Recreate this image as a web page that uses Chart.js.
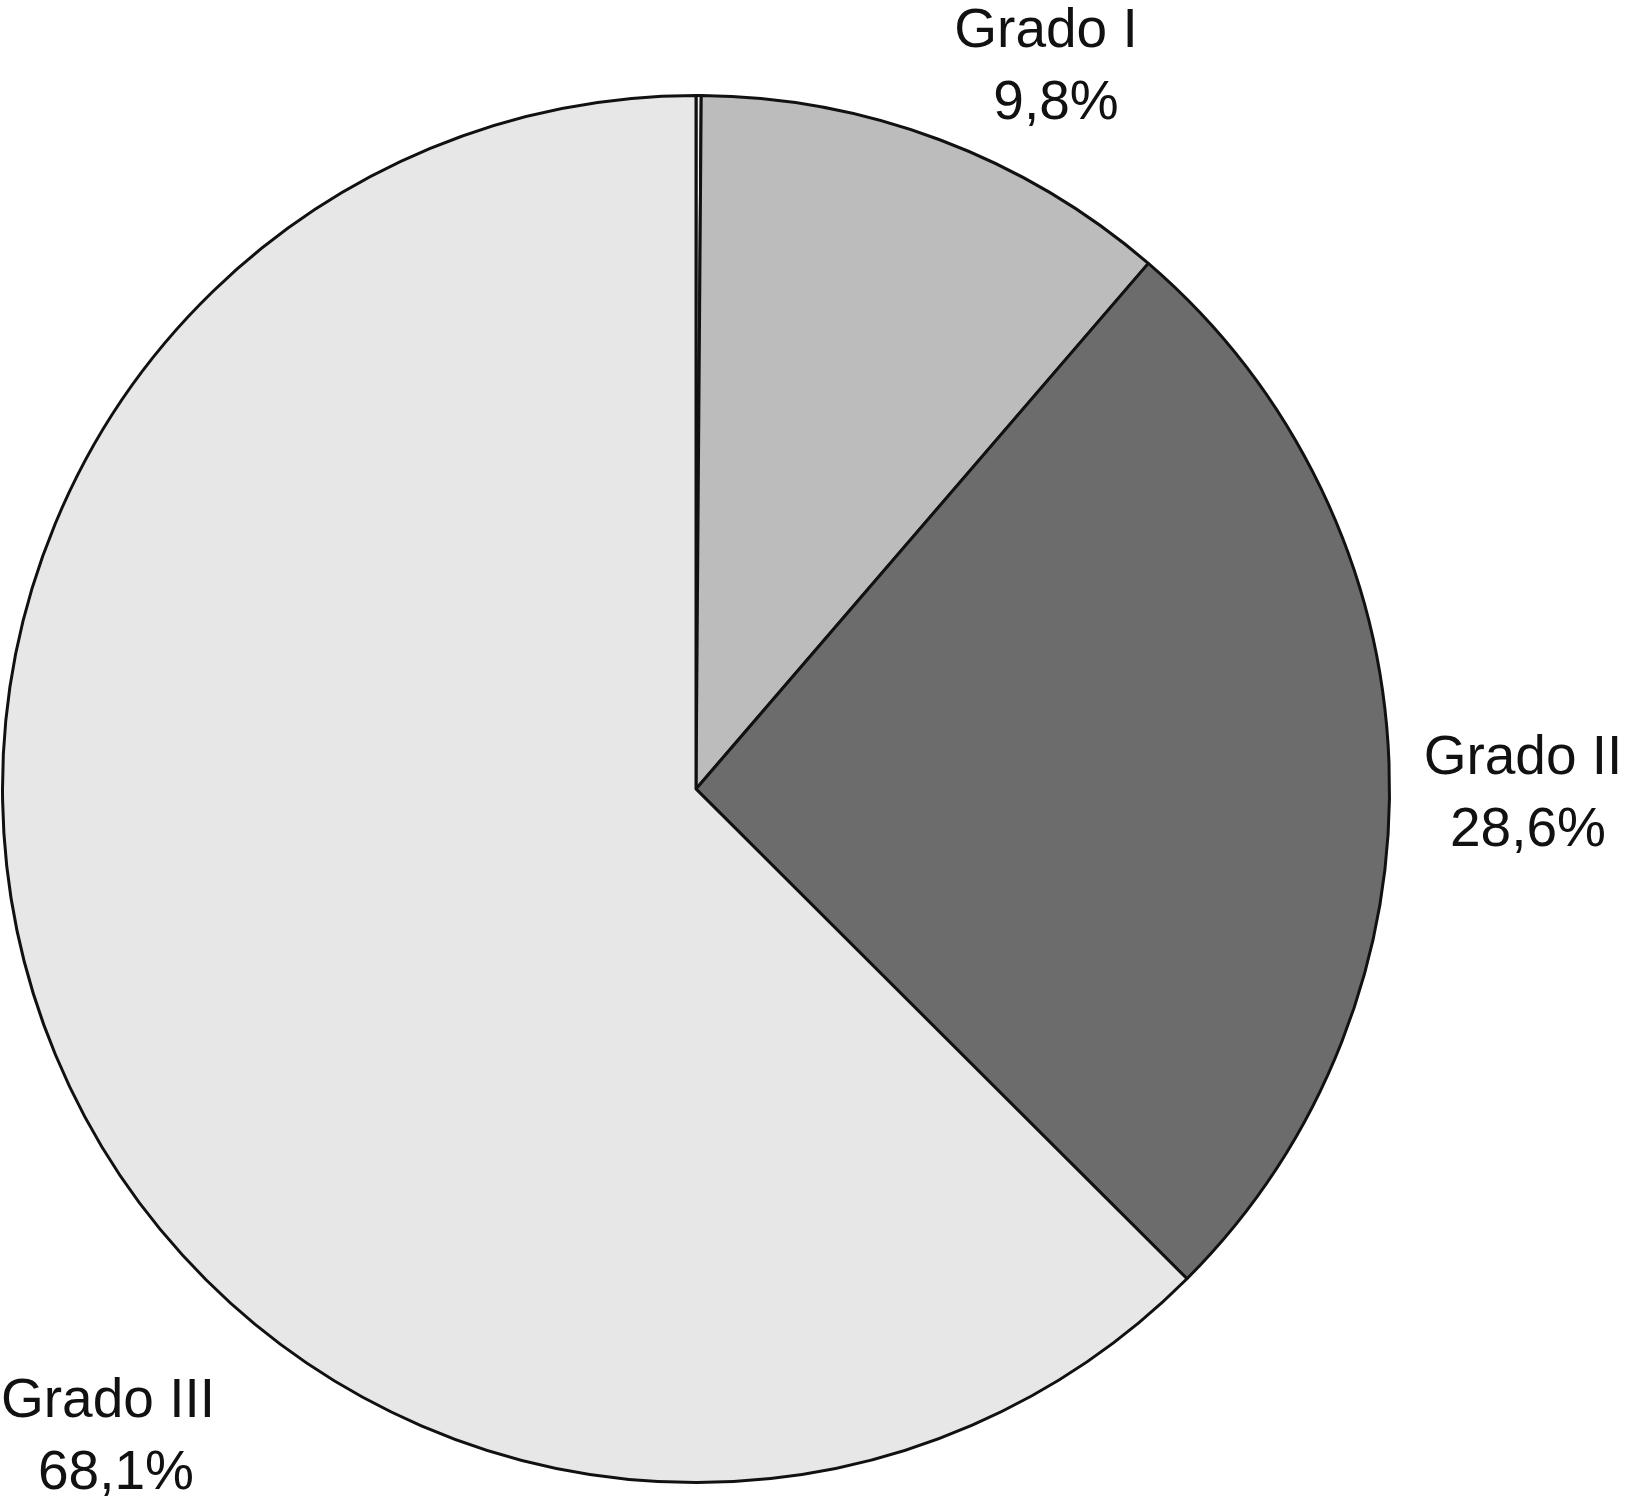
<!DOCTYPE html>
<html>
<head>
<meta charset="utf-8">
<script src="https://cdn.jsdelivr.net/npm/chart.js@4/dist/chart.umd.min.js"></script>
<style>
  html, body { margin: 0; padding: 0; background: #fff; }
  #wrap { width: 1625px; height: 1509px; }
</style>
</head>
<body>
<div id="wrap"><canvas id="gradoChart"></canvas></div>
<script>
/*---------------------------- data ------------------------------------*/
// slices clockwise from 12 o'clock (first one is the thin sliver at the top)
var grados = ['', 'Grado I', 'Grado II', 'Grado III'];
var sliceValues = [0.12, 11.19, 26.17, 62.52];
var pctLabels = ['', '9,8%', '28,6%', '68,1%'];
var sliceColors = ['#f2f2f2', '#bcbcbc', '#6c6c6c', '#e7e7e7'];

/*---------------------------- labels ----------------------------------*/
// where each two-line label sits (centre x of each line, baseline of first line)
var labelSpots = [
  null,
  { x1: 1046, x2: 1056, y: 47 },
  { x1: 1523, x2: 1528, y: 774 },
  { x1: 108, x2: 116, y: 1417 }
];

var sliceLabels = {
  id: 'sliceLabels',
  afterDraw: function (chart) {
    var ctx = chart.ctx;
    ctx.save();
    ctx.fillStyle = '#111';
    ctx.font = '55px "Liberation Sans", Arial, sans-serif';
    ctx.textAlign = 'center';
    ctx.textBaseline = 'alphabetic';
    chart.data.labels.forEach(function (name, i) {
      var spot = labelSpots[i];
      if (!spot || !name) return;
      ctx.fillText(name, spot.x1, spot.y);
      ctx.fillText(pctLabels[i], spot.x2, spot.y + 72);
    });
    ctx.restore();
  }
};

new Chart('gradoChart', {
  type: 'pie',
  data: {
    labels: grados,
    datasets: [{
      data: sliceValues,
      backgroundColor: sliceColors,
      borderColor: '#111',
      borderWidth: 3
    }]
  },
  options: {
    responsive: true,
    maintainAspectRatio: false,
    animation: false,
    layout: { padding: { left: 1, right: 234, top: 94, bottom: 25 } },
    plugins: {
      legend: { display: false },
      tooltip: { enabled: false }
    }
  },
  plugins: [sliceLabels]
});
</script>
</body>
</html>
